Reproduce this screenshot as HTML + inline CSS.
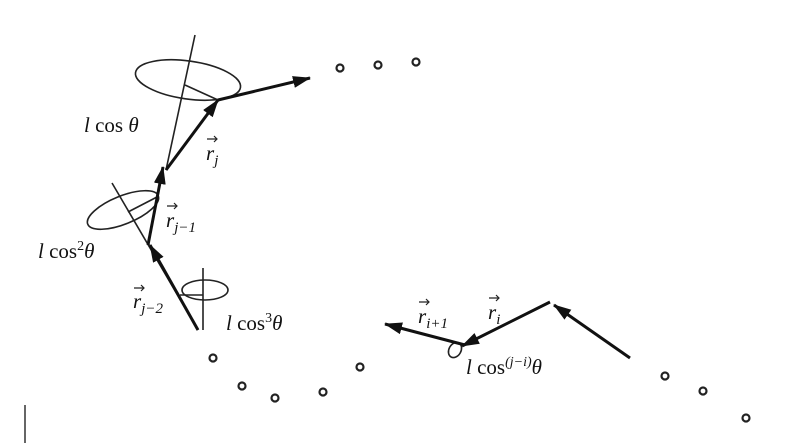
<!DOCTYPE html>
<html><head><meta charset="utf-8"><style>
html,body{margin:0;padding:0;background:#fff;width:801px;height:443px;overflow:hidden}
text{font-family:"Liberation Serif",serif;font-size:21px;fill:#111;font-style:italic}
.n{font-style:normal}
</style></head><body>
<svg width="801" height="443" viewBox="0 0 801 443" xmlns="http://www.w3.org/2000/svg">
<defs>
<marker id="b" markerWidth="18" markerHeight="12" refX="17" refY="6" orient="auto" markerUnits="userSpaceOnUse" viewBox="0 0 18 12"><path d="M0,0 L18,6 L0,12 z" fill="#111"/></marker></defs>
<g stroke="#222" fill="none" stroke-width="1.6">
<line x1="195" y1="35" x2="166" y2="170"/>
<ellipse cx="188" cy="80" rx="53" ry="19" transform="rotate(8 188 80)"/>
<line x1="185" y1="85" x2="218" y2="100"/>
<line x1="112" y1="183" x2="198" y2="330"/>
<ellipse cx="123" cy="210" rx="38" ry="14" transform="rotate(-22 123 210)"/>
<line x1="128" y1="212" x2="157" y2="197"/>
<line x1="203" y1="268" x2="203" y2="330"/>
<ellipse cx="205" cy="290" rx="23" ry="10"/>
<line x1="180" y1="295" x2="203" y2="295"/>
<ellipse cx="455" cy="350" rx="6" ry="8" transform="rotate(30 455 350)"/>
</g>
<g stroke="#111" stroke-width="3" fill="none">
<line x1="166" y1="170" x2="218" y2="100" marker-end="url(#b)"/>
<line x1="218" y1="100" x2="310" y2="78" marker-end="url(#b)"/>
<line x1="148" y1="245" x2="163" y2="167" marker-end="url(#b)"/>
<line x1="198" y1="330" x2="150" y2="245" marker-end="url(#b)"/>
<line x1="465" y1="345" x2="385" y2="324" marker-end="url(#b)"/>
<line x1="550" y1="302" x2="462" y2="346" marker-end="url(#b)"/>
<line x1="630" y1="358" x2="554" y2="305" marker-end="url(#b)"/>
</g>
<g stroke="#222" stroke-width="2.2" fill="none">
<circle cx="340" cy="68" r="3.5"/><circle cx="378" cy="65" r="3.5"/><circle cx="416" cy="62" r="3.5"/>
<circle cx="213" cy="358" r="3.5"/><circle cx="242" cy="386" r="3.5"/><circle cx="275" cy="398" r="3.5"/>
<circle cx="323" cy="392" r="3.5"/><circle cx="360" cy="367" r="3.5"/>
<circle cx="665" cy="376" r="3.5"/><circle cx="703" cy="391" r="3.5"/><circle cx="746" cy="418" r="3.5"/>
</g>
<line x1="25" y1="405" x2="25" y2="443" stroke="#333" stroke-width="1.5"/>
<text x="84" y="132">l <tspan class="n">cos</tspan> θ</text>
<text x="206" y="160">r<tspan font-size="15" dy="5">j</tspan></text>
<text x="166" y="227">r<tspan font-size="15" dy="5">j−1</tspan></text>
<text x="38" y="258">l <tspan class="n">cos</tspan><tspan class="n" font-size="14" dy="-8">2</tspan><tspan dy="8">θ</tspan></text>
<text x="133" y="308">r<tspan font-size="15" dy="5">j−2</tspan></text>
<text x="226" y="330">l <tspan class="n">cos</tspan><tspan class="n" font-size="14" dy="-8">3</tspan><tspan dy="8">θ</tspan></text>
<text x="418" y="323">r<tspan font-size="15" dy="5">i+1</tspan></text>
<text x="488" y="319">r<tspan font-size="15" dy="5">i</tspan></text>
<text x="466" y="374">l <tspan class="n">cos</tspan><tspan font-size="14" dy="-8">(j−i)</tspan><tspan dy="8">θ</tspan></text>
<g stroke="#222" stroke-width="1.2" fill="none">
<path d="M207,139 h10 M214,136 l3,3 l-3,3"/>
<path d="M167,206 h10 M174,203 l3,3 l-3,3"/>
<path d="M134,288 h10 M141,285 l3,3 l-3,3"/>
<path d="M419,302 h10 M426,299 l3,3 l-3,3"/>
<path d="M489,298 h10 M496,295 l3,3 l-3,3"/>
</g>
</svg>
</body></html>
